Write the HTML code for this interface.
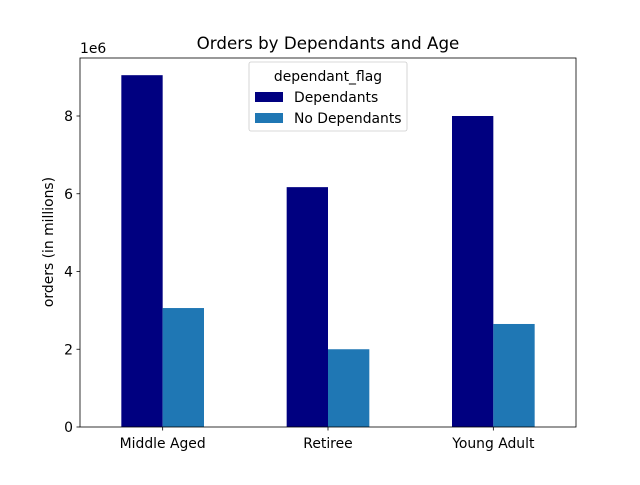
<!DOCTYPE html>
<html><head><meta charset="utf-8"><style>
body{margin:0;background:#fff;}
svg text{font-family:"DejaVu Sans","Liberation Sans",sans-serif;fill:#000;}
</style></head><body>
<svg id="chart" width="640" height="480" viewBox="0 0 640 480">
<rect width="640" height="480" fill="#fff"/>
<g id="plot"></g>
</svg>
<script>
const categories = ["Middle Aged","Retiree","Young Adult"];
const dependants = [9.05, 6.17, 8.0];
const noDependants = [3.06, 2.0, 2.65];
const yTicks = [0,2,4,6,8];
const seriesNames = ["Dependants","No Dependants"];

const L=80,R=576,T=58,B=427;
const ys=v=>B-v*38.875;
const xs=i=>L+(i+0.5)*(R-L)/3;
const unit=(R-L)/3;
const NS="http://www.w3.org/2000/svg";
const g=document.getElementById('plot');
function mk(tag,attrs,parent){const e=document.createElementNS(NS,tag);for(const k in attrs)e.setAttribute(k,attrs[k]);(parent||g).appendChild(e);return e;}
const colors=["#000080","#1f77b4"];
const FS=13.9;
[dependants,noDependants].forEach((arr,s)=>{
  arr.forEach((v,i)=>{
    const x=xs(i)-0.25*unit+s*0.25*unit;
    const r=mk('rect',{x:x,y:ys(v),width:0.25*unit,height:B-ys(v),fill:colors[s]});
    
    
  });
});
const frame=mk('rect',{x:L,y:T,width:R-L,height:B-T,fill:'none',stroke:'#000','stroke-width':0.8});


yTicks.forEach(t=>{
  const y=ys(t);
  const l=mk('line',{x1:L-3.5,x2:L,y1:y,y2:y,stroke:'#000','stroke-width':0.8});
  
  
  const tx=mk('text',{x:L-7,y:y+5,'text-anchor':'end','font-size':FS});
  tx.textContent=t;
  
  
});
categories.forEach((c,i)=>{
  const x=xs(i);
  const l=mk('line',{x1:x,x2:x,y1:B,y2:B+3.5,stroke:'#000','stroke-width':0.8});
  
  
  const tx=mk('text',{x:x,y:B+21,'text-anchor':'middle','font-size':FS});
  tx.textContent=c;
  
  
});
let t=mk('text',{x:80,y:53,'font-size':FS});t.textContent='1e6';


t=mk('text',{x:328,y:49,'text-anchor':'middle','font-size':16.7});t.textContent='Orders by Dependants and Age';


t=mk('text',{x:0,y:0,'text-anchor':'middle','font-size':FS,transform:'translate(53,242) rotate(-90)'});t.textContent='orders (in millions)';


const lg=mk('g',{});


mk('rect',{x:249,y:62,width:158,height:69,rx:2,fill:'#fff','fill-opacity':0.8,stroke:'#ccc','stroke-width':0.8},lg);
t=mk('text',{x:328,y:81,'text-anchor':'middle','font-size':FS},lg);t.textContent='dependant_flag';


seriesNames.forEach((n,s)=>{
  const y=92+s*21;
  const r=mk('rect',{x:255,y:y,width:28,height:10,fill:colors[s]},lg);
  
  
  const tx=mk('text',{x:294,y:y+10,'font-size':FS},lg);tx.textContent=n;
  
  
});
</script>
</body></html>
